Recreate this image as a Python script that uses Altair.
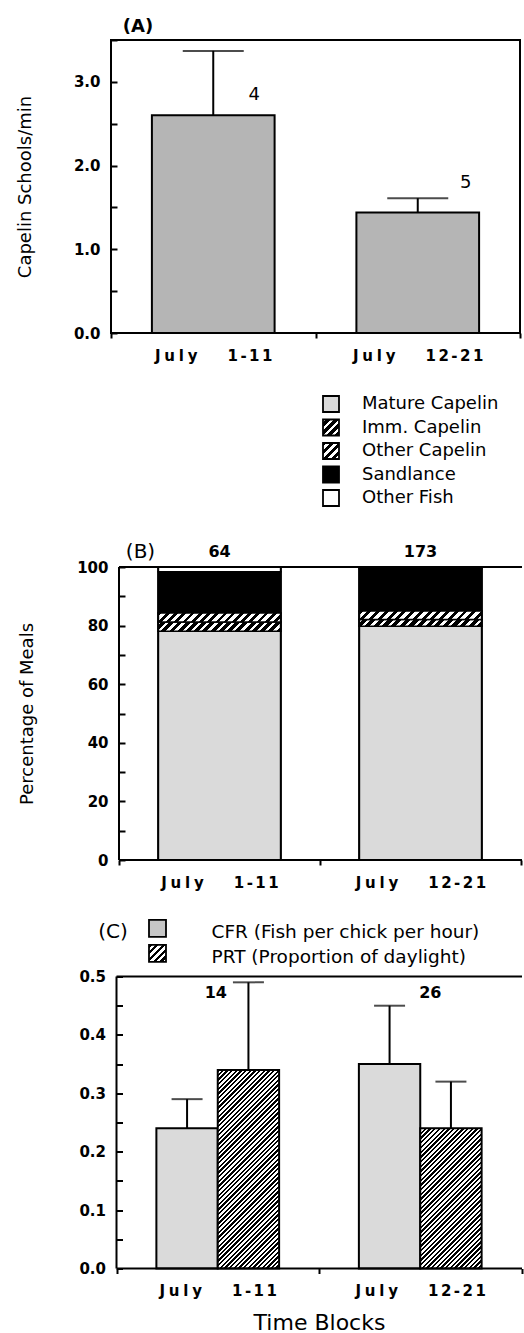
import altair as alt
import numpy as np
import pandas as pd

# ---------------- data ----------------
periods = ["July 1-11", "July 12-21"]

# (A) capelin schools encountered per minute: mean, SE and number of surveys
schools_mean = [2.60, 1.44]
schools_se = [0.77, 0.17]
schools_n = ["4", "5"]

# (B) prey composition of chick meals (% of meals) and number of meals
prey_types = ["Mature Capelin", "Imm. Capelin", "Other Capelin", "Sandlance", "Other Fish"]
meals_early = [78.1, 3.1, 3.1, 14.1, 1.6]
meals_late = [79.8, 2.3, 2.9, 14.4, 0.6]
meals_n = ["64", "173"]

# (C) chick feeding rate and parental attendance: mean, SE and sample sizes
measures = ["CFR", "PRT"]
measure_labels = ["CFR (Fish per chick per hour)", "PRT (Proportion of daylight)"]
cfr_mean = [0.24, 0.35]
cfr_se = [0.05, 0.10]
prt_mean = [0.34, 0.24]
prt_se = [0.15, 0.08]
feeding_n = ["14", "26"]

# ---------------- layout / style ----------------
W_A, H_A = 409, 293
W_FULL = 411                 # view width of panels B and C
SHIFT_B, SHIFT_C = 8, 5.5    # left inset of the B and C plot frames
W_B, H_B = 402, 293
W_C, H_C = 405, 292
BAR_FRAC = 0.6
SUB_PAD = 0.65
MID_GRAY = "#b5b5b5"
LIGHT_GRAY = "#dadada"
FONT = "DejaVu Sans"


def hatch(w, h, period, fg, bg, duty=0.5):
    """Diagonal '/' stripes as a hard-stop linear gradient over a w x h box."""
    s = (w + h) / (w * w + h * h)
    span = (w + h) / np.sqrt(2)
    n = max(1, int(round(span / period)))
    stops = []
    for k in range(n):
        a, b, c = k / n, (k + duty) / n, (k + 1) / n
        stops += [
            {"offset": a, "color": fg},
            {"offset": b, "color": fg},
            {"offset": b, "color": bg},
            {"offset": c, "color": bg},
        ]
    return {"gradient": "linear", "x1": 0, "y1": 0,
            "x2": float(w * s), "y2": float(h * s), "stops": stops}


def spaced(text, gap):
    return gap.join(text)


def tick_text(p):
    month, days = p.split(" ")
    return spaced(month, "\u2005") + "\u2003\u2003" + spaced(days, "\u2006")


x_label_expr = (f"datum.value == '{periods[0]}' ? '{tick_text(periods[0])}' : "
                f"datum.value == '{periods[1]}' ? '{tick_text(periods[1])}' : ''")


def x_enc(shift=0.0, width=W_A, title=None):
    axis = alt.Axis(tickBand="extent", tickSize=5, tickWidth=2, labelAngle=0,
                    labelFontSize=15, labelPadding=10, labelExpr=x_label_expr,
                    titleFontSize=22, titlePadding=14, title=title)
    scale = alt.Scale(domain=periods, paddingInner=0, paddingOuter=0,
                      range=[float(shift), float(shift + width)])
    return alt.X("period:N", sort=periods, scale=scale, axis=axis)


def y_enc(field, domain, values, expr, shift=0.0, title=None, title_pad=40):
    kw = dict(values=[float(v) for v in values], labelExpr=expr, offset=-(6 + shift),
              tickSize=6, tickWidth=2, labelPadding=11, labelFontSize=15,
              title=title)
    if title:
        kw.update(titleFontSize=18, titlePadding=title_pad)
    return alt.Y(field, type="quantitative", scale=alt.Scale(domain=domain, nice=False),
                 axis=alt.Axis(**kw))


def label(text, x, y, size, weight="normal", align="center"):
    return alt.Chart(pd.DataFrame({"t": [text]})).mark_text(
        font=FONT, fontSize=size, fontWeight=weight, align=align,
        baseline="middle", color="black"
    ).encode(x=alt.value(x), y=alt.value(y), text="t:N")


def swatch(x0, y0, w, h, fill, sw=1.8):
    return alt.Chart(pd.DataFrame({"v": [0]})).mark_rect(
        fill=fill, stroke="black", strokeWidth=sw
    ).encode(x=alt.value(x0), x2=alt.value(x0 + w), y=alt.value(y0), y2=alt.value(y0 + h))


def frame(shift, height):
    """Left, top and bottom edges of an open-right plot frame."""
    one = pd.DataFrame({"v": [0]})
    left = alt.Chart(one).mark_rule(color="black", strokeWidth=2).encode(
        x=alt.value(shift), y=alt.value(0), y2=alt.value(height))
    top = alt.Chart(one).mark_rule(color="black", strokeWidth=2).encode(
        x=alt.value(shift), x2=alt.value(W_FULL), y=alt.value(0))
    bottom = alt.Chart(one).mark_rule(color="black", strokeWidth=2).encode(
        x=alt.value(shift), x2=alt.value(W_FULL), y=alt.value(height))
    return [left, top, bottom]


def vspacer():
    return alt.Chart(pd.DataFrame({"v": [0]})).mark_point(opacity=0).encode(
        x=alt.value(0), y=alt.value(0)
    ).properties(width=1, height=1, view=alt.ViewBackground(stroke="transparent"))


# ---------------- panel A ----------------
dfA = pd.DataFrame({"period": periods, "mean": schools_mean, "se": schools_se, "n": schools_n})
dfA["upper"] = dfA["mean"] + dfA["se"]

yA_args = dict(domain=[0, 3.5], values=np.arange(0, 3.51, 0.5),
               expr="datum.value % 1 == 0 ? format(datum.value, '.1f') : ''",
               title="Capelin Schools/min", title_pad=39)
xA = x_enc(0, W_A)

barsA = alt.Chart(dfA).mark_bar(width={"band": BAR_FRAC}, fill=MID_GRAY, stroke="black",
                                strokeWidth=2).encode(x=xA, y=y_enc("mean", **yA_args))
errA = alt.Chart(dfA).mark_rule(color="black", strokeWidth=2).encode(
    x=xA, y=y_enc("mean", **yA_args), y2="upper:Q")
capA = alt.Chart(dfA).mark_tick(color="black", thickness=2, size=61, orient="horizontal").encode(
    x=xA, y=y_enc("upper", **yA_args))
n_offsets_A = [(41, 44), (48, -15)]
nA = [
    alt.Chart(dfA.iloc[[i]]).mark_text(font=FONT, fontSize=18, dx=dx, dy=dy, baseline="middle",
                                       color="black").encode(
        x=xA, y=y_enc("upper", **yA_args), text="n:N")
    for i, (dx, dy) in enumerate(n_offsets_A)
]
panelA = alt.layer(barsA, errA, capA, *nA, label("(A)", 27, -13, 18, "bold")).properties(
    width=W_A, height=H_A)

# ---------------- panel B ----------------
rows = []
for p, pcts in zip(periods, [meals_early, meals_late]):
    base = 0.0
    for cat, v in zip(prey_types, pcts):
        rows.append({"period": p, "prey": cat, "pct": v, "y0": base, "y1": base + v})
        base += v
dfB = pd.DataFrame(rows)
dfBn = pd.DataFrame({"period": periods, "n": meals_n})

yB_args = dict(domain=[0, 100], values=np.arange(0, 101, 10),
               expr="datum.value % 20 == 0 ? format(datum.value, 'd') : ''",
               shift=SHIFT_B, title="Percentage of Meals", title_pad=40)
xB = x_enc(SHIFT_B, W_B)
BAR_FRAC_B = 0.61

prey_fill = [LIGHT_GRAY, "black", "white", "black", "white"]
segB = alt.Chart(dfB).mark_bar(width={"band": BAR_FRAC_B}, stroke="black", strokeWidth=1.5).encode(
    x=xB, y=y_enc("y0", **yB_args), y2="y1:Q",
    fill=alt.Fill("prey:N", scale=alt.Scale(domain=prey_types, range=prey_fill), legend=None))

bar_w_B = BAR_FRAC_B * W_B / 2
hatch_style = {"Imm. Capelin": ("white", "black", 0.4), "Other Capelin": ("black", "white", 0.45)}
hatchB = []
for p in periods:
    for cat, (fg, bg, duty) in hatch_style.items():
        v = float(dfB[(dfB.period == p) & (dfB.prey == cat)].pct.iloc[0])
        grad = hatch(bar_w_B, v / 100 * H_B, 6.0, fg, bg, duty)
        hatchB.append(
            alt.Chart(dfB).transform_filter(
                (alt.datum.period == p) & (alt.datum.prey == cat)
            ).mark_bar(width={"band": BAR_FRAC_B}, fill=grad, stroke="black",
                       strokeWidth=1.5).encode(x=xB, y=y_enc("y0", **yB_args), y2="y1:Q"))

totals = alt.Chart(dfB).transform_aggregate(
    total="sum(pct)", groupby=["period"]
).transform_lookup(lookup="period", from_=alt.LookupData(dfBn, "period", ["n"]))

outlineB = totals.mark_bar(width={"band": BAR_FRAC_B}, fillOpacity=0, stroke="black",
                           strokeWidth=2).encode(x=xB, y=y_enc("total", **yB_args))
nB = totals.mark_text(font=FONT, fontSize=16, fontWeight="bold", dy=-15, baseline="middle",
                      color="black").encode(x=xB, y=y_enc("total", **yB_args), text="n:N")

legB = []
for i, cat in enumerate(prey_types):
    cy = -163 + i * 23.5
    if cat in hatch_style:
        fg, bg, duty = hatch_style[cat]
        fill = hatch(16, 16, 5.5, fg, bg, duty)
    else:
        fill = prey_fill[i]
    legB.append(swatch(SHIFT_B + 204, cy - 8, 16, 16, fill))
    legB.append(label(cat, SHIFT_B + 243, cy, 18, align="left"))

panelB = alt.layer(segB, *hatchB, outlineB, nB, *legB, *frame(SHIFT_B, H_B),
                   label("(B)", SHIFT_B + 21.5, -15, 20)).properties(
    width=W_FULL, height=H_B, view=alt.ViewBackground(stroke="transparent"))

# ---------------- panel C ----------------
dfC = pd.DataFrame({
    "period": periods * 2,
    "measure": ["CFR"] * 2 + ["PRT"] * 2,
    "mean": cfr_mean + prt_mean,
    "se": cfr_se + prt_se,
})
dfC["upper"] = dfC["mean"] + dfC["se"]

yC_args = dict(domain=[0, 0.5], values=np.round(np.arange(0, 0.501, 0.05), 2),
               expr="round(datum.value * 100) % 10 == 0 ? format(datum.value, '.1f') : ''",
               shift=SHIFT_C)
xC = x_enc(SHIFT_C, W_C, "Time Blocks")
xoff = alt.XOffset("measure:N", sort=measures,
                   scale=alt.Scale(domain=measures, paddingInner=0, paddingOuter=SUB_PAD))

cfrC = alt.Chart(dfC).transform_filter(alt.datum.measure == "CFR").mark_bar(
    fill=LIGHT_GRAY, stroke="black", strokeWidth=2).encode(
    x=xC, xOffset=xoff, y=y_enc("mean", **yC_args))

sub_w = (W_C / 2) / (2 + 2 * SUB_PAD)
prtC = []
for p, v in zip(periods, prt_mean):
    grad = hatch(sub_w, v / 0.5 * H_C, 3.3, "black", "white", 0.5)
    prtC.append(alt.Chart(dfC).transform_filter(
        (alt.datum.measure == "PRT") & (alt.datum.period == p)
    ).mark_bar(fill=grad, stroke="black", strokeWidth=2).encode(
        x=xC, xOffset=xoff, y=y_enc("mean", **yC_args)))

errC = alt.Chart(dfC).mark_rule(color="black", strokeWidth=2).encode(
    x=xC, xOffset=xoff, y=y_enc("mean", **yC_args), y2="upper:Q")
capC = alt.Chart(dfC).mark_tick(color="black", thickness=2, size=31, orient="horizontal").encode(
    x=xC, xOffset=xoff, y=y_enc("upper", **yC_args))

dfCn = pd.DataFrame({"period": periods, "n": feeding_n})
n_dx_C = [-2, 10]
nC = [
    alt.Chart(dfCn.iloc[[i]]).mark_text(font=FONT, fontSize=16, fontWeight="bold", dx=dx,
                                        baseline="middle", color="black").encode(
        x=xC, y=alt.value(16), text="n:N")
    for i, dx in enumerate(n_dx_C)
]

legC = [
    label("(C)", SHIFT_C - 3.5, -44.7, 20),
    swatch(SHIFT_C + 32.5, -56.7, 17, 17, "#c6c6c6"),
    swatch(SHIFT_C + 32.5, -31.7, 17, 17, hatch(17, 17, 4.5, "black", "white", 0.5)),
    label(measure_labels[0], SHIFT_C + 95, -44.7, 18.5, align="left"),
    label(measure_labels[1], SHIFT_C + 95, -19.7, 18.5, align="left"),
]

panelC = alt.layer(cfrC, *prtC, errC, capC, *nC, *legC, *frame(SHIFT_C, H_C)).properties(
    width=W_FULL, height=H_C, view=alt.ViewBackground(stroke="transparent"))

# ---------------- assemble ----------------
chart = alt.vconcat(
    panelA, vspacer(), panelB, panelC,
    spacing=116.5, bounds="flush",
).properties(
    padding={"left": 15, "top": 17, "right": 0, "bottom": 0},
    background="white",
).configure_view(
    stroke="black", strokeWidth=2
).configure_axis(
    labelFont=FONT, labelFontWeight="bold", labelColor="black", tickColor="black",
    grid=False, domain=False, titleFont=FONT, titleFontWeight="normal", titleColor="black",
)

chart.save("out.html", embed_options={"renderer": "svg", "actions": False})
